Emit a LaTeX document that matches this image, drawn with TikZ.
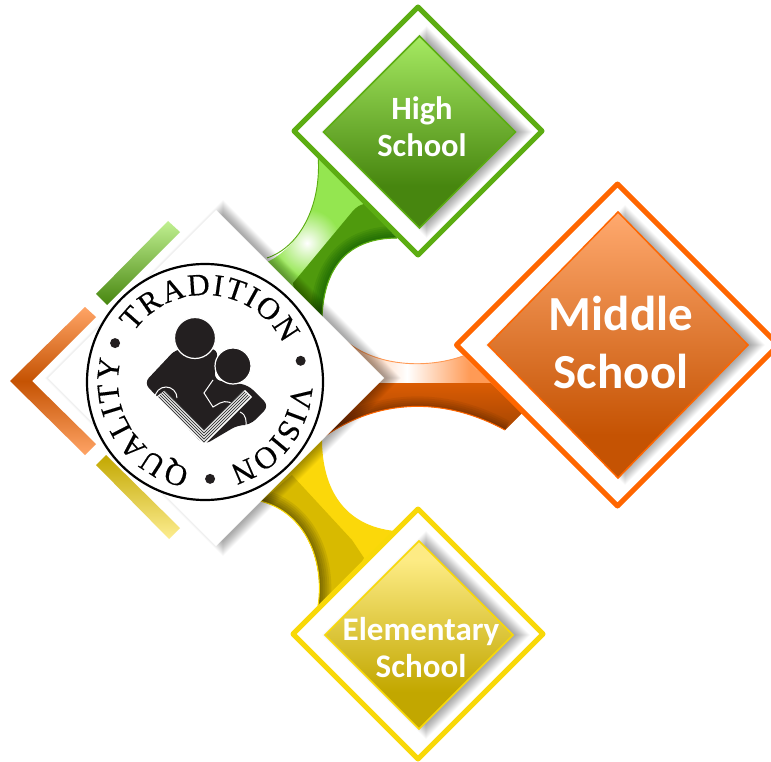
\documentclass[tikz,border=0pt]{standalone}
\usepackage{fontspec}
\usetikzlibrary{shapes.geometric,decorations.text}
\newfontfamily\sealserif{Liberation Serif}[FakeBold=0.35]
\newfontfamily\carlitoface{Carlito}
\newcommand\sealfont{\sealserif\fontsize{31}{31}\selectfont}
\definecolor{ink}{HTML}{231F20}
\definecolor{gLine}{HTML}{5CAD12}
\definecolor{gLight}{HTML}{94E650}
\definecolor{gDark}{HTML}{4F9A0D}
\definecolor{gTop}{HTML}{A6EA62}
\definecolor{gBottom}{HTML}{47860F}
\definecolor{oLine}{HTML}{FF6600}
\definecolor{oLight}{HTML}{FF9A55}
\definecolor{oDark}{HTML}{DB5C03}
\definecolor{yLine}{HTML}{F8D808}
\definecolor{yLight}{HTML}{FBD80A}
\definecolor{yDark}{HTML}{D8BA00}
\pgfdeclareverticalshading{greenbox}{100bp}{color(0bp)=(gBottom); color(25bp)=(gBottom); color(36bp)=(gBottom); color(75bp)=(gTop); color(100bp)=(gTop)}
\pgfdeclareverticalshading{orangebox}{100bp}{color(0bp)=(oDark!90!black); color(25bp)=(oDark!90!black); color(33bp)=(oDark!90!black); color(75bp)=(oLight!85!white); color(100bp)=(oLight!85!white)}
\pgfdeclareverticalshading{yellowbox}{100bp}{color(0bp)=(yDark!90!black); color(25bp)=(yDark!90!black); color(35bp)=(yDark!90!black); color(70bp)=(yLight!50!white); color(100bp)=(yLight!50!white)}
\pgfdeclareverticalshading{chevronfill}{100bp}{color(0bp)=(oLight!90!white); color(25bp)=(oLight!90!white); color(50bp)=(oDark!90!black); color(75bp)=(oLight!90!white); color(100bp)=(oLight!90!white)}
\tikzset{
  ringbox/.style={diamond,aspect=1,inner sep=0pt,outer sep=0pt,fill=white,line width=5pt,line join=round,minimum size=#1},
  corebox/.style={diamond,aspect=1,inner sep=0pt,outer sep=0pt,line width=1.5pt,line join=miter,minimum size=#1},
  boxlabel/.style={text=white,align=center,inner sep=0pt},
  sealword/.style={decorate,decoration={text along path,text align=fit to path,text={|\sealfont|#1}}},
}
% centre x, centre y, half diagonal
\newcommand\softshadow[3]{%
  \foreach \d in {10,9,...,-4}{%
    \fill[black,opacity=0.024] ({#1+7+#3+\d},#2) -- (#1+7,{#2-#3-\d}) -- ({#1+7-#3-\d},#2) -- (#1+7,{#2+#3+\d}) -- cycle;}}
\begin{document}
\begin{tikzpicture}[x=1pt,y=-1pt]
\useasboundingbox (0,0) rectangle (771,762);
\clip (0,0) rectangle (771,762);
\fill[white] (0,0) rectangle (771,762);

% ---------- green connector
\begin{scope}
\clip (267,262) .. controls (300,247) and (322,205) .. (318,155) -- (397,238) .. controls (350,238) and (324,265) .. (322,317) -- cycle;
\fill[gLight] (250,140) rectangle (410,330);
\shade[inner color=white,outer color=gLight] (307,243) circle[radius=34];
\fill[gDark] (293,283) -- (352,212) .. controls (356,207) and (360,205) .. (364,204) -- (420,230) -- (400,320) -- (300,330) -- cycle;
\foreach \w in {4,8,12,16,20,24}{\draw[black!70!green,opacity=0.11,line width=\w pt] (397,238) .. controls (350,238) and (324,265) .. (322,317);}
\end{scope}
\draw[gLine,line width=0.9pt] (267,258) .. controls (300,247) and (322,205) .. (318,155);
\draw[gLine,line width=1.1pt] (397,238) .. controls (350,238) and (324,265) .. (322,317);

% ---------- orange connector
\begin{scope}
\clip (347,342) .. controls (380,368) and (430,368) .. (463,356) -- (522,413) -- (505,430) .. controls (450,400) and (385,395) .. (325,436) -- (383,378) -- cycle;
\fill[oLight] (320,330) rectangle (530,440);
\shade[left color=oLight!70!white,right color=white] (345,330) rectangle (407,384);
\shade[left color=white,right color=oLight] (407,330) rectangle (470,384);
\shade[top color=oDark,bottom color=oDark!70!black] (320,383) rectangle (530,440);
\foreach \w in {4,8,12,16,20}{\draw[black,opacity=0.05,line width=\w pt] (505,430) .. controls (450,400) and (385,395) .. (325,436);}
\end{scope}
\draw[oLight,line width=0.9pt] (347,342) .. controls (380,368) and (430,368) .. (463,356);
\draw[oLine,line width=1pt] (505,430) .. controls (450,400) and (385,395) .. (325,436);

% ---------- yellow connector
\begin{scope}
\clip (322,439) .. controls (322,490) and (345,526) .. (395,531) -- (318,608) .. controls (325,560) and (305,512) .. (260,501) -- cycle;
\fill[yLight] (250,430) rectangle (400,610);
\fill[yDark] (292,475) -- (352,540) .. controls (356,546) and (360,552) .. (364,558) -- (330,620) -- (240,520) -- cycle;
\foreach \w in {4,8,12,16,20,24}{\draw[black,opacity=0.08,line width=\w pt] (318,608) .. controls (325,560) and (305,512) .. (260,501);}
\end{scope}
\draw[yLine,line width=1pt] (318,606) .. controls (325,560) and (305,512) .. (260,501);

% ---------- central diamond
\softshadow{216}{378}{168}
\node[diamond,aspect=1,inner sep=0pt,outer sep=0pt,fill=white,minimum size=336pt] (hub) at (216,378) {};

% ---------- side bars
\shade[top color=gTop!70!white,bottom color=gBottom] (168,221) -- (180,232) -- (107,305) -- (96,294) -- cycle;
\shade[shading=chevronfill] (85,307) -- (96,317) -- (32,381) -- (96,444) -- (85,455) -- (10,381) -- cycle;
\shade[top color=yDark!90!black,bottom color=yLight!45!white] (106,455) -- (180,528) -- (169,539) -- (96,465) -- cycle;

% ---------- seal
\node[circle,draw=black,fill=white,line width=2.2pt,minimum size=236pt,inner sep=0pt] (seal) at (205,382) {};
\begin{scope}[shift={(205,382)},x=1pt,y=1pt]
\path[sealword=TRADITION] (145:87) arc[start angle=145,end angle=26,radius=87];
\path[sealword=VISION] (-2:87) arc[start angle=-2,end angle=-74,radius=87];
\path[sealword=QUALITY] (-100:87) arc[start angle=-100,end angle=-195,radius=87];
\fill[ink] (156.6:98) circle[radius=5] (12.5:98) circle[radius=5] (-87:97) circle[radius=5];
\end{scope}

% ---------- seal emblem
\fill[ink,rounded corners=7pt] (144,383) -- (176,349) -- (218,349) -- (214,380) -- (248,385) -- (269,406) -- (250,425) -- (238,425) -- (204,445) -- cycle;
\draw[white,fill=ink,line width=1.2pt] (195,338) circle[radius=20.5];
\draw[white,fill=ink,line width=1.2pt] (233,366) circle[radius=18];
\draw[white,line width=1pt] (213,380) -- (204,393) -- (213,407) -- (220,403) .. controls (226,400) and (232,402) .. (238,408);
\draw[white,line width=1pt] (155,398) arc[start angle=180,end angle=0,x radius=11,y radius=-11];
\draw[white,line width=1pt] (240,412) .. controls (247,415) and (246,422) .. (246,425);
\fill[white] (156,397) -- (164,391) -- (204,430) -- (245,390) -- (252,397) -- (204,445) -- cycle;
\foreach \o in {1,4,7,10,13}{\draw[black!75,line width=1pt] ({158+\o*.5},{397-\o*.5}) -- (204,{443-\o}) -- ({250-\o*.5},{397-\o*.5});}

% ---------- High School
\node[ringbox=248pt,draw=gLine] (highring) at (418,131) {};
\softshadow{419.5}{132}{96}
\node[corebox=192pt,draw=gLine,shade,shading=greenbox] (highcore) at (419.5,132) {};
\node[boxlabel,font=\fontsize{32.5}{37}\selectfont\carlitoface\bfseries] (highlabel) at (422,127) {High\\School};

% ---------- Middle School
\node[ringbox=322pt,draw=oLine] (midring) at (617.5,345) {};
\softshadow{618}{345}{130}
\node[corebox=260pt,minimum height=266pt,draw=oLine,shade,shading=orangebox] (midcore) at (618,345) {};
\node[boxlabel,font=\fontsize{49}{58}\selectfont\carlitoface\bfseries] (midlabel) at (621,342) {Middle\\School};

% ---------- Elementary School
\node[ringbox=250pt,draw=yLine] (elemring) at (418,634) {};
\softshadow{419}{635}{94}
\node[corebox=188pt,draw=yLine,shade,shading=yellowbox] (elemcore) at (419,635) {};
\node[boxlabel,font=\fontsize{33}{37}\selectfont\carlitoface\bfseries] (elemlabel) at (421,648) {Elementary\\School};
\end{tikzpicture}
\end{document}
